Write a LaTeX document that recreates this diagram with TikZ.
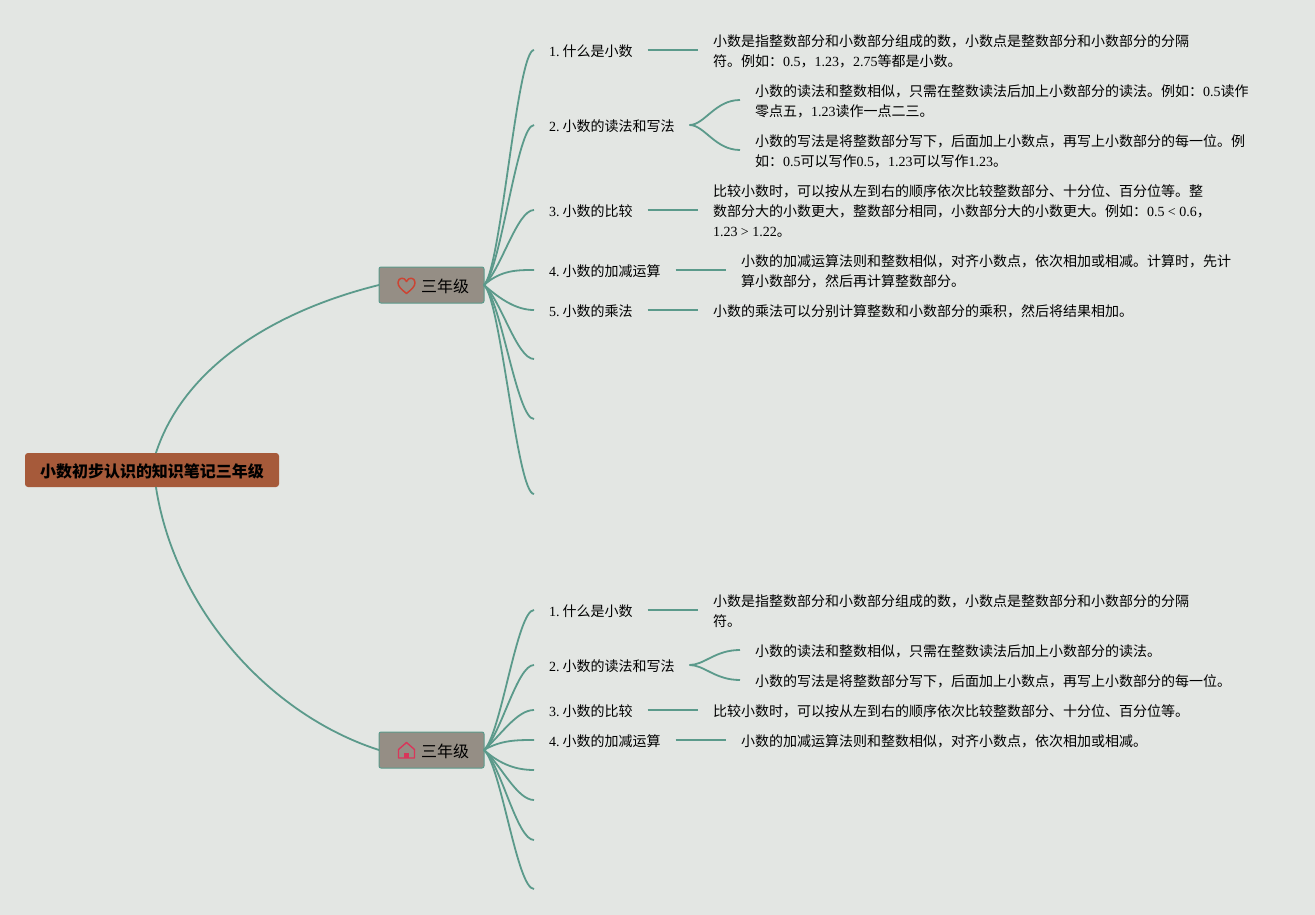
\documentclass[tikz,border=0pt]{standalone}
\usepackage{fontspec}
\setmainfont{Noto Sans CJK SC}
\newfontfamily\latinfont{Liberation Serif}
\newcommand{\lat}[1]{{\latinfont #1}}
\definecolor{mapbg}{HTML}{E3E6E3}
\definecolor{mapline}{HTML}{5B9A8B}
\definecolor{rootbrown}{HTML}{A65A3A}
\definecolor{topicgrey}{HTML}{958E85}
\definecolor{heartred}{HTML}{CC4433}
\definecolor{housered}{HTML}{D9365A}

\begin{document}
\begin{tikzpicture}
  [x=1pt,y=-1pt,
   every node/.style={inner ysep=0pt,outer sep=0pt,font=\fontsize{14}{20}\selectfont},
   rootbox/.style={fill=rootbrown,rounded corners=3pt,minimum width=254pt,minimum height=34pt,text height=16pt,text depth=1pt,font=\fontsize{16}{20}\selectfont\bfseries},
   topicbox/.style={fill=topicgrey,draw=mapline,line width=1pt,rounded corners=2pt,inner xsep=15pt,minimum height=36pt,text height=16pt,text depth=1pt,font=\fontsize{16}{20}\selectfont},
   label/.style={anchor=west,inner xsep=15pt},
   detail/.style={anchor=west,inner xsep=15pt,align=left},
   link/.style={draw=mapline,line width=1.8pt},
   branch/.style={to path={.. controls +(17,#1) and +(-17,0) .. (\tikztotarget)}},
   fork/.style={to path={.. controls +(15,0) and +(-25,0) .. (\tikztotarget)}}]

  \fill[mapbg] (0,0) rectangle (1315,915);
  \useasboundingbox (0,0) rectangle (1315,915);

  \node[rootbox] (root) at (152,470) {小数初步认识的知识笔记三年级};
  \node[topicbox] (m1) at (431.5,285) {\hspace{27pt}三年级};
  \node[topicbox] (m2) at (431.5,750) {\hspace{27pt}三年级};

  % upper branch
  \node[label] (a1) at (534,51) {\lat{1.}\hspace{3pt}什么是小数};
  \node[label] (a2) at (534,126) {\lat{2.}\hspace{3pt}小数的读法和写法};
  \node[label] (a3) at (534,211) {\lat{3.}\hspace{3pt}小数的比较};
  \node[label] (a4) at (534,271) {\lat{4.}\hspace{3pt}小数的加减运算};
  \node[label] (a5) at (534,311) {\lat{5.}\hspace{3pt}小数的乘法};
  \coordinate (a6) at (534,360);
  \coordinate (a7) at (534,420);
  \coordinate (a8) at (534,495);

  \node[detail] (b1) at (698,51) {小数是指整数部分和小数部分组成的数，小数点是整数部分和小数部分的分隔\\符。例如：\lat{0.5}，\lat{1.23}，\lat{2.75}等都是小数。};
  \node[detail] (b21) at (740,101) {小数的读法和整数相似，只需在整数读法后加上小数部分的读法。例如：\lat{0.5}读作\\零点五，\lat{1.23}读作一点二三。};
  \node[detail] (b22) at (740,151) {小数的写法是将整数部分写下，后面加上小数点，再写上小数部分的每一位。例\\如：\lat{0.5}可以写作\lat{0.5}，\lat{1.23}可以写作\lat{1.23}。};
  \node[detail] (b3) at (698,211) {比较小数时，可以按从左到右的顺序依次比较整数部分、十分位、百分位等。整\\数部分大的小数更大，整数部分相同，小数部分大的小数更大。例如：\lat{0.5 < 0.6}，\\\lat{1.23 > 1.22}。};
  \node[detail] (b4) at (726,271) {小数的加减运算法则和整数相似，对齐小数点，依次相加或相减。计算时，先计\\算小数部分，然后再计算整数部分。};
  \node[detail] (b5) at (698,311) {小数的乘法可以分别计算整数和小数部分的乘积，然后将结果相加。};

  % lower branch
  \node[label] (c1) at (534,611) {\lat{1.}\hspace{3pt}什么是小数};
  \node[label] (c2) at (534,666) {\lat{2.}\hspace{3pt}小数的读法和写法};
  \node[label] (c3) at (534,711) {\lat{3.}\hspace{3pt}小数的比较};
  \node[label] (c4) at (534,741) {\lat{4.}\hspace{3pt}小数的加减运算};
  \coordinate (c5) at (534,771);
  \coordinate (c6) at (534,801);
  \coordinate (c7) at (534,841);
  \coordinate (c8) at (534,890);

  \node[detail] (d1) at (698,611) {小数是指整数部分和小数部分组成的数，小数点是整数部分和小数部分的分隔\\符。};
  \node[detail] (d21) at (740,651) {小数的读法和整数相似，只需在整数读法后加上小数部分的读法。};
  \node[detail] (d22) at (740,681) {小数的写法是将整数部分写下，后面加上小数点，再写上小数部分的每一位。};
  \node[detail] (d3) at (698,711) {比较小数时，可以按从左到右的顺序依次比较整数部分、十分位、百分位等。};
  \node[detail] (d4) at (726,741) {小数的加减运算法则和整数相似，对齐小数点，依次相加或相减。};

  \draw[link] (root.77) .. controls (184,367) and (274,311) .. (m1.west);
  \draw[link] (root.-77) .. controls (175,610) and (270,715) .. (m2.west);

  \foreach \to/\bend in {a1.west/-15,a2.west/-15,a3.west/-15,a4.west/-15,a5.west/15,a6/15,a7/15,a8/15}
    \draw[link] (m1.east) to[branch=\bend] ([yshift=1pt]\to);
  \foreach \to/\bend in {c1.west/-15,c2.west/-15,c3.west/-15,c4.west/-10,c5/15,c6/15,c7/15,c8/15}
    \draw[link] (m2.east) to[branch=\bend] ([yshift=1pt]\to);
  \foreach \from/\to in {a2/b21,a2/b22,c2/d21,c2/d22}
    \draw[link] ([yshift=1pt]\from.east) to[fork] ([yshift=1pt]\to.west);
  \foreach \from/\to in {a1/b1,a3/b3,a4/b4,a5/b5,c1/d1,c3/d3,c4/d4}
    \draw[link] ([yshift=1pt]\from.east) -- ([yshift=1pt]\to.west);

  % icons
  \draw[heartred,line width=1.5pt,line join=round] (406.5,293.5) .. controls (401,289) and (398,286.5) .. (398,282.5)
    .. controls (398,277.5) and (404.5,276.5) .. (406.5,281.5)
    .. controls (408.5,276.5) and (415,277.5) .. (415,282.5)
    .. controls (415,286.5) and (412,289) .. (406.5,293.5) -- cycle;
  \draw[housered,line width=1.4pt,line join=round] (398.5,758) -- (398.5,749.5) -- (406.5,742.5) -- (414.5,749.5) -- (414.5,758) -- cycle;
  \fill[housered] (404,752.5) rectangle (409,758);
\end{tikzpicture}
\end{document}
